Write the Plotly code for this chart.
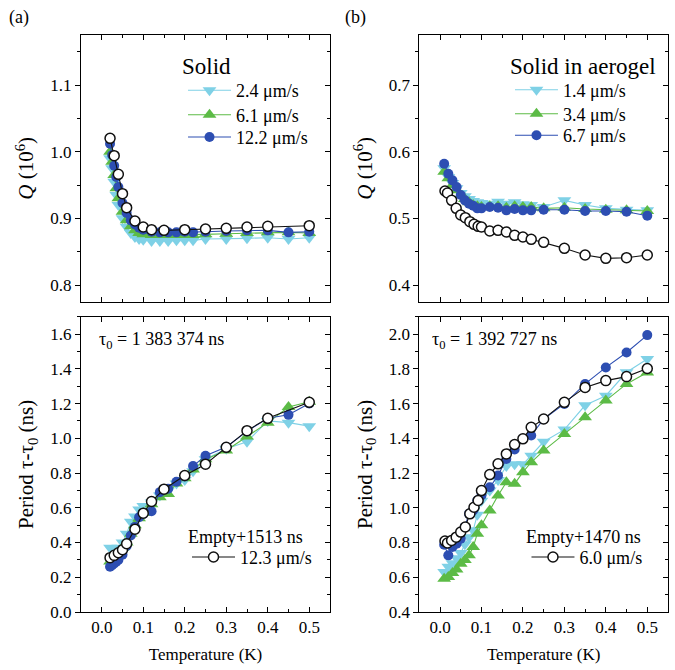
import plotly.graph_objects as go

# ---------------- data ----------------
# Panel (a): solid
Ta = [0.02, 0.025, 0.03, 0.035, 0.04, 0.05, 0.06, 0.07, 0.08, 0.09, 0.10, 0.12,
      0.14, 0.16, 0.18, 0.20, 0.22, 0.25, 0.30, 0.35, 0.40, 0.45, 0.50]
Qa_24 = [0.990, 0.975, 0.955, 0.935, 0.920, 0.900, 0.887, 0.878, 0.872, 0.869, 0.868, 0.866,
         0.866, 0.866, 0.867, 0.867, 0.867, 0.869, 0.869, 0.870, 0.871, 0.869, 0.871]
Qa_61 = [1.000, 0.985, 0.965, 0.945, 0.930, 0.910, 0.897, 0.888, 0.882, 0.878, 0.876, 0.875,
         0.875, 0.875, 0.875, 0.875, 0.875, 0.876, 0.877, 0.878, 0.879, 0.879, 0.878]
Qa_122 = [1.012, 0.995, 0.979, 0.962, 0.947, 0.923, 0.908, 0.897, 0.891, 0.886, 0.883, 0.880,
          0.879, 0.879, 0.879, 0.880, 0.879, 0.880, 0.881, 0.882, 0.882, 0.879, 0.880]
Pa_24 = [0.37, 0.36, 0.35, 0.36, 0.37, 0.40, 0.45, 0.52, 0.55, 0.59, 0.61, 0.63,
         0.67, 0.70, 0.74, 0.76, 0.81, 0.88, 0.94, 0.98, 1.10, 1.09, 1.07]
Pa_61 = [0.29, 0.30, 0.31, 0.32, 0.34, 0.37, 0.40, 0.45, 0.50, 0.54, 0.57, 0.62,
         0.66, 0.68, 0.74, 0.77, 0.82, 0.88, 0.93, 1.01, 1.09, 1.18, 1.21]
Pa_122 = [0.26, 0.27, 0.28, 0.29, 0.30, 0.33, 0.38, 0.44, 0.49, 0.545, 0.565, 0.58,
          0.69, 0.71, 0.75, 0.78, 0.84, 0.90, 0.95, 1.04, 1.115, 1.135, 1.20]
Ta_empty = [0.02, 0.03, 0.04, 0.05, 0.06, 0.08, 0.10, 0.12, 0.15, 0.20, 0.25, 0.30, 0.35, 0.40, 0.50]
Qa_empty = [1.020, 0.994, 0.966, 0.937, 0.916, 0.896, 0.887, 0.883, 0.882, 0.883, 0.884,
            0.885, 0.887, 0.888, 0.889]
Pa_empty = [0.313, 0.326, 0.341, 0.359, 0.393, 0.477, 0.569, 0.636, 0.707, 0.786, 0.851,
            0.948, 1.044, 1.115, 1.207]

# Panel (b): solid in aerogel
Tb = [0.01, 0.02, 0.03, 0.04, 0.05, 0.06, 0.07, 0.08, 0.09, 0.10, 0.12, 0.14,
      0.16, 0.18, 0.20, 0.22, 0.25, 0.30, 0.35, 0.40, 0.45, 0.50]
Qb_14 = [0.575, 0.562, 0.553, 0.545, 0.538, 0.533, 0.529, 0.526, 0.524, 0.523, 0.522, 0.525,
         0.522, 0.524, 0.521, 0.520, 0.517, 0.527, 0.520, 0.515, 0.513, 0.512]
Qb_34 = [0.570, 0.560, 0.550, 0.542, 0.535, 0.529, 0.524, 0.520, 0.518, 0.517, 0.518, 0.518,
         0.516, 0.518, 0.517, 0.517, 0.515, 0.516, 0.514, 0.513, 0.512, 0.511]
Qb_67 = [0.582, 0.567, 0.557, 0.547, 0.535, 0.527, 0.522, 0.519, 0.515, 0.515, 0.517, 0.516,
         0.512, 0.514, 0.512, 0.512, 0.513, 0.513, 0.511, 0.511, 0.510, 0.504]
Pb_14 = [0.63, 0.66, 0.68, 0.71, 0.74, 0.79, 0.83, 0.87, 0.96, 1.04, 1.10, 1.16,
         1.24, 1.25, 1.25, 1.30, 1.38, 1.45, 1.59, 1.645, 1.78, 1.856]
Pb_34 = [0.592, 0.601, 0.625, 0.644, 0.678, 0.700, 0.726, 0.774, 0.851, 0.900, 0.985, 1.071,
         1.147, 1.138, 1.205, 1.262, 1.329, 1.425, 1.521, 1.617, 1.713, 1.779]
Pb_67 = [0.787, 0.726, 0.774, 0.793, 0.822, 0.890, 0.965, 0.985, 1.042, 1.071, 1.118, 1.186,
         1.281, 1.335, 1.397, 1.416, 1.511, 1.598, 1.713, 1.808, 1.894, 1.994]
Tb_empty = [0.012, 0.018, 0.028, 0.039, 0.05, 0.061, 0.072, 0.082, 0.092, 0.10, 0.12, 0.14,
            0.16, 0.18, 0.20, 0.22, 0.25, 0.30, 0.35, 0.40, 0.45, 0.50]
Qb_empty = [0.541, 0.538, 0.527, 0.515, 0.505, 0.501, 0.495, 0.491, 0.488, 0.487, 0.481, 0.482,
            0.4795, 0.4745, 0.472, 0.4685, 0.464, 0.455, 0.445, 0.440, 0.441, 0.445]
Pb_empty = [0.808, 0.797, 0.812, 0.831, 0.860, 0.889, 0.965, 1.003, 1.042, 1.099, 1.191, 1.253,
            1.310, 1.364, 1.397, 1.463, 1.511, 1.607, 1.693, 1.732, 1.755, 1.802]

names_a = ["2.4 μm/s", "6.1 μm/s", "12.2 μm/s"]
names_b = ["1.4 μm/s", "3.4 μm/s", "6.7 μm/s"]
name_a_empty = "12.3 μm/s"
name_b_empty = "6.0 μm/s"

# ---------------- style ----------------
FONT = "Liberation Serif"
CYAN = "#7fd1e6"
GREEN = "#5cbb46"
BLUE = "#2d4eb2"
BLACK = "#111111"
colors = [CYAN, GREEN, BLUE]
symbols = ["triangle-down", "triangle-up", "circle"]

fig = go.Figure()


def add(x, y, name, color, symbol, xa, ya, legend, showlegend, hollow=False):
    fig.add_trace(go.Scatter(
        x=x, y=y, mode="lines+markers", name=name, xaxis=xa, yaxis=ya,
        legend=legend, showlegend=showlegend, legendgroup=name,
        line=dict(color=color, width=1.1),
        marker=dict(symbol=symbol, size=10 if symbol == "circle" else 12,
                    color="white" if hollow else color,
                    line=dict(color=color, width=1.5 if hollow else 0)),
    ))


# one legend per entry so each entry can be placed like the reference
leg_a = ["legend", "legend2", "legend3"]
leg_b = ["legend5", "legend6", "legend7"]

for Q, P, nm, c, s, lg in zip([Qa_24, Qa_61, Qa_122], [Pa_24, Pa_61, Pa_122], names_a,
                              colors, symbols, leg_a):
    add(Ta, Q, nm, c, s, "x", "y", lg, True)
    add(Ta, P, nm, c, s, "x3", "y3", lg, False)
add(Ta_empty, Qa_empty, name_a_empty, BLACK, "circle", "x", "y", "legend4", False, hollow=True)
add(Ta_empty, Pa_empty, name_a_empty, BLACK, "circle", "x3", "y3", "legend4", True, hollow=True)

for Q, P, nm, c, s, lg in zip([Qb_14, Qb_34, Qb_67], [Pb_14, Pb_34, Pb_67], names_b,
                              colors, symbols, leg_b):
    add(Tb, Q, nm, c, s, "x2", "y2", lg, True)
    add(Tb, P, nm, c, s, "x4", "y4", lg, False)
add(Tb_empty, Qb_empty, name_b_empty, BLACK, "circle", "x2", "y2", "legend8", False, hollow=True)
add(Tb_empty, Pb_empty, name_b_empty, BLACK, "circle", "x4", "y4", "legend8", True, hollow=True)

# empty traces to create overlay axes for inward mirror ticks
for k in range(5, 9):
    fig.add_trace(go.Scatter(x=[], y=[], xaxis=f"x{k}", yaxis=f"y{k}", showlegend=False,
                             hoverinfo="skip"))

XR = [-0.05, 0.55]
XD = {1: [0, 0.4242], 2: [0.5763, 1.0], 3: [0, 0.4242], 4: [0.5763, 1.0]}
YD = {1: [0.5378, 1.0], 2: [0.5378, 1.0], 3: [0, 0.5118], 4: [0, 0.5118]}
YR = {1: [0.775, 1.175], 2: [0.375, 0.775], 3: [0.0, 1.7], 4: [0.4, 2.1]}
YDT = {1: 0.1, 2: 0.1, 3: 0.2, 4: 0.2}

tickfont = dict(family=FONT, size=17, color="black")
xtitlefont = dict(family=FONT, size=17, color="black")
ytitlefont = dict(family=FONT, size=21, color="black")
layout = {}
for k in range(1, 5):
    xs = "" if k == 1 else str(k)
    bottom = k in (3, 4)
    layout[f"xaxis{xs}"] = dict(
        domain=XD[k], range=XR, anchor=f"y{xs}", showline=True, linecolor="black",
        linewidth=1, mirror=True, ticks="inside", ticklen=5,
        tickwidth=1, tickcolor="black", tick0=0, dtick=0.1, tickformat=".1f",
        showticklabels=bottom, tickfont=tickfont, showgrid=False, zeroline=False,
        minor=dict(dtick=0.05, tick0=0, ticks="inside", ticklen=3,
                   tickcolor="black", showgrid=False),
        title=dict(text="Temperature (K)", font=xtitlefont, standoff=11) if bottom else None,
    )
    ytitle = "<i>Q</i> (10<sup>6</sup>)" if k in (1, 2) else "Period τ-τ<sub>0</sub> (ns)"
    layout[f"yaxis{xs}"] = dict(
        domain=YD[k], range=YR[k], anchor=f"x{xs}", showline=True, linecolor="black",
        linewidth=1, mirror=True, ticks="outside", ticklen=5, tickwidth=1, tickcolor="black",
        tick0=0, dtick=YDT[k], tickformat=".1f", tickfont=tickfont, showgrid=False,
        zeroline=False,
        minor=dict(dtick=YDT[k] / 2, tick0=0, ticks="outside", ticklen=3, tickcolor="black",
                   showgrid=False),
        title=dict(text=ytitle, font=ytitlefont, standoff=10),
    )
    o = k + 4
    layout[f"xaxis{o}"] = dict(
        overlaying=f"x{xs}", side="top", anchor=f"y{o}", range=XR, showline=False,
        ticks="inside", ticklen=5, tickcolor="black", tick0=0, dtick=0.1,
        showticklabels=False, showgrid=False, zeroline=False,
        minor=dict(dtick=0.05, tick0=0, ticks="inside", ticklen=3, tickcolor="black",
                   showgrid=False),
    )
    layout[f"yaxis{o}"] = dict(
        overlaying=f"y{xs}", side="right", anchor=f"x{o}", range=YR[k], showline=False,
        ticks="inside", ticklen=5, tickcolor="black", tick0=0, dtick=YDT[k],
        showticklabels=False, showgrid=False, zeroline=False,
        minor=dict(dtick=YDT[k] / 2, tick0=0, ticks="inside", ticklen=3, tickcolor="black",
                   showgrid=False),
    )

legfont = dict(family=FONT, size=18, color="black")


def leg(x, y):
    return dict(x=x, y=y, xanchor="left", yanchor="top", font=legfont,
                bgcolor="rgba(0,0,0,0)", borderwidth=0, itemwidth=43,
                tracegroupgap=0)


layout.update(
    legend=leg(0.1738, 0.9357),
    legend2=leg(0.1738, 0.8934),
    legend3=leg(0.1738, 0.8548),
    legend4=leg(0.1806, 0.1269),
    legend5=leg(0.7308, 0.9367),
    legend6=leg(0.7308, 0.8951),
    legend7=leg(0.7308, 0.8577),
    legend8=leg(0.7589, 0.1269),
)

ann = [
    dict(text="(a)", x=-0.1056, y=1.031, size=18, xa="center"),
    dict(text="(b)", x=0.4668, y=1.031, size=18, xa="center"),
    dict(text="Solid", x=0.2138, y=0.9451, size=23, xa="center"),
    dict(text="Solid in aerogel", x=0.855, y=0.9451, size=23, xa="center"),
    dict(text="τ<sub>0</sub> = 1 383 374 ns", x=0.0267, y=0.4714, size=18, xa="left"),
    dict(text="τ<sub>0</sub> = 1 392 727 ns", x=0.5946, y=0.4714, size=18, xa="left"),
    dict(text="Empty+1513 ns", x=0.2794, y=0.1305, size=18, xa="center"),
    dict(text="Empty+1470 ns", x=0.8566, y=0.1295, size=18, xa="center"),
]
annotations = [dict(text=a["text"], x=a["x"], y=a["y"], xref="paper", yref="paper",
                    xanchor=a["xa"], yanchor="middle", showarrow=False,
                    font=dict(family=FONT, size=a["size"], color="black")) for a in ann]

fig.update_layout(
    **layout,
    annotations=annotations,
    width=675, height=670,
    margin=dict(l=81, r=7, t=35, b=58),
    paper_bgcolor="white", plot_bgcolor="white",
    font=dict(family=FONT, size=17, color="black"),
)

fig.write_html("out.html", config={"displayModeBar": False},
               post_script="document.body.style.margin='0px';")
